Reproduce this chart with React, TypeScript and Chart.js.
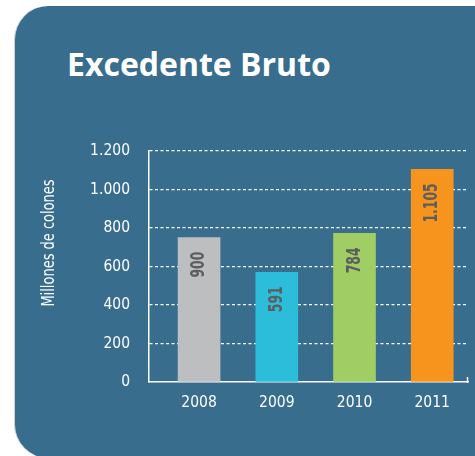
import React, { useEffect, useRef } from "react";
import { Chart, registerables } from "chart.js";

Chart.register(...registerables);

// ---- data ----
const years = [2008, 2009, 2010, 2011];
const barHeights = [750, 570, 772, 1105];
const valueLabels = ["900", "591", "784", "1.105"];
const barColors = ["#bdbec0", "#2bbdd9", "#a1cd65", "#f7941e"];
const yTickValues = [0, 200, 400, 600, 800, 1000, 1200];
const yTickLabels = ["0", "200", "400", "600", "800", "1.000", "1.200"];
const titleText = "Excedente Bruto";
const yAxisTitle = "Millones de colones";

const NARROW = "'Liberation Sans Narrow', 'DejaVu Sans Condensed', sans-serif";

const overlayPlugin = {
  id: "overlay",
  afterDatasetsDraw(chart: any) {
    const ctx = chart.ctx;
    const area = chart.chartArea;
    // value labels inside bars
    const meta = chart.getDatasetMeta(0);
    ctx.save();
    ctx.fillStyle = "#5c5d5f";
    ctx.font = `bold 20px ${NARROW}`;
    ctx.textAlign = "right";
    ctx.textBaseline = "middle";
    meta.data.forEach((el: any, i: number) => {
      ctx.save();
      ctx.translate(el.x, el.y + 14);
      ctx.rotate(-Math.PI / 2);
      ctx.scale(0.69, 1);
      ctx.fillText(valueLabels[i], 0, 0);
      ctx.restore();
    });
    ctx.restore();
    // y axis title
    ctx.save();
    ctx.fillStyle = "#ffffff";
    ctx.font = `17px ${NARROW}`;
    ctx.textAlign = "center";
    ctx.textBaseline = "middle";
    ctx.translate(50, 243);
    ctx.rotate(-Math.PI / 2);
    ctx.scale(0.85, 1);
    ctx.fillText(yAxisTitle, 0, 0);
    ctx.restore();
    // small end tick on x axis
    ctx.save();
    ctx.strokeStyle = "#ffffff";
    ctx.lineWidth = 1.5;
    ctx.beginPath();
    ctx.moveTo(area.right - 0.5, area.bottom + 0.75);
    ctx.lineTo(area.right - 0.5, area.bottom - 5);
    ctx.stroke();
    ctx.restore();
  },
};

export default function App() {
  const canvasRef = useRef<HTMLCanvasElement | null>(null);

  useEffect(() => {
    if (!canvasRef.current) return;
    const chart = new Chart(canvasRef.current, {
      type: "bar",
      data: {
        datasets: [
          {
            data: years.map((y, i) => ({ x: y, y: barHeights[i] })),
            backgroundColor: barColors,
            borderWidth: 0,
            barThickness: 42,
          },
        ],
      },
      options: {
        responsive: false,
        animation: false,
        devicePixelRatio: 1,
        layout: { padding: { left: 49, top: 151, right: 7, bottom: 34 } },
        plugins: {
          legend: { display: false },
          tooltip: { enabled: false },
          title: { display: false },
        },
        scales: {
          x: {
            type: "linear",
            offset: false,
            min: 2007.356,
            max: 2011.46,
            afterFit: (scale: any) => {
              scale.height = 40;
            },
            afterBuildTicks: (scale: any) => {
              scale.ticks = years.map((v) => ({ value: v }));
            },
            ticks: {
              color: "#ffffff",
              font: { family: NARROW, size: 15.5 },
              padding: 12,
              callback: (v: any) => String(v),
              maxRotation: 0,
              autoSkip: false,
            },
            grid: { display: false, drawTicks: false, offset: false },
            border: { display: true, color: "#ffffff", width: 1.5 },
          },
          y: {
            min: 0,
            max: 1200,
            afterFit: (scale: any) => {
              scale.width = 100;
            },
            afterBuildTicks: (scale: any) => {
              scale.ticks = yTickValues.map((v) => ({ value: v }));
            },
            ticks: {
              color: "#ffffff",
              font: { family: NARROW, size: 15.5 },
              padding: 19,
              callback: (v: any) => {
                const idx = yTickValues.indexOf(Number(v));
                return idx >= 0 ? yTickLabels[idx] : "";
              },
            },
            grid: {
              drawTicks: false,
              color: (c: any) => (c.tick && c.tick.value === 0 ? "rgba(0,0,0,0)" : "#ffffff"),
              lineWidth: 1.3,
            },
            border: { display: true, color: "#ffffff", width: 1.5, dash: [3, 2.5] },
          },
        },
      },
      plugins: [overlayPlugin],
    } as any);
    return () => chart.destroy();
  }, []);

  return (
    <div style={{ position: "fixed", left: 0, top: 0, width: 475, height: 456, background: "#ffffff", overflow: "hidden" }}>
      <div
        style={{
          position: "absolute",
          left: 14,
          top: 6,
          width: 470,
          height: 452,
          background: "#386d8e",
          borderRadius: "34px 0 0 34px",
          borderLeft: "1px solid #c9d0d6",
          boxSizing: "border-box",
        }}
      />
      <div
        style={{
          position: "absolute",
          left: 67,
          top: 48,
          color: "#ffffff",
          fontFamily: "'Open Sans', sans-serif",
          fontWeight: 700,
          fontSize: 32,
          lineHeight: 1,
          whiteSpace: "nowrap",
        }}
      >
        {titleText}
      </div>
      <canvas ref={canvasRef} width={475} height={456} style={{ position: "absolute", left: 0, top: 0 }} />
    </div>
  );
}
